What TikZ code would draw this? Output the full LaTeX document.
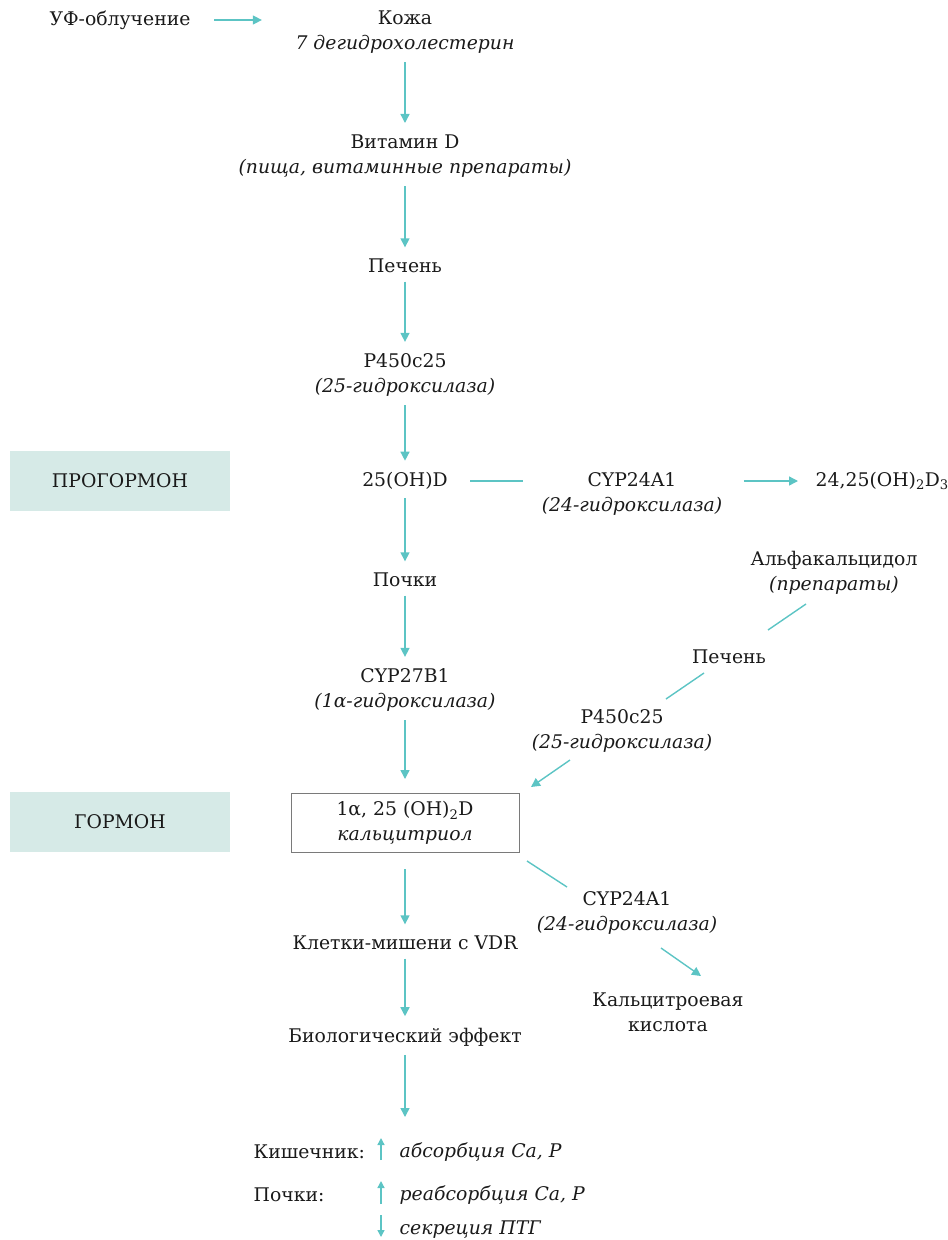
\documentclass[tikz,border=0pt]{standalone}
\usepackage{fontspec}
\setmainfont{DejaVu Serif}
\usepackage{tikz}
\usetikzlibrary{arrows.meta}
\usetikzlibrary{calc}
\definecolor{ink}{HTML}{1A1A1A}
\definecolor{teal}{HTML}{5CC4C4}
\definecolor{mint}{HTML}{D6EAE7}
\definecolor{frame}{HTML}{7A7A7A}
\tikzset{every picture/.style={line width=1.4pt},
lbl/.style={inner sep=0pt, align=center},
stage/.style={fill=mint, minimum width=220pt, minimum height=60pt, inner sep=0pt},
keybox/.style={draw=frame, line width=1pt, minimum width=228pt, minimum height=59pt, align=center, inner sep=0pt},
flow/.style={draw=teal, -{Triangle[length=9pt,width=9pt]}, shorten <=8pt, shorten >=11pt},
link/.style={draw=teal},
tick/.style={draw=teal, -{Triangle[length=7pt,width=7pt]}}}

\begin{document}
\begin{tikzpicture}[x=1pt, y=-1pt, every node/.style={font=\fontsize{18.8}{25}\selectfont, text=ink}]
\useasboundingbox (0,0) rectangle (948,1240);
% stages
\node (pro) at (120,481) [stage] {ПРОГОРМОН};
\node (hor) at (120,822) [stage] {ГОРМОН};
% main chain
\node (uv) at (120,20) [lbl] {УФ-облучение};
\node (skin) at (405,32) [lbl] {Кожа\\\textit{7 дегидрохолестерин}};
\node (vitd) at (405,156) [lbl] {Витамин D\\\textit{(пища, витаминные препараты)}};
\node (liver) at (405,266) [lbl] {Печень};
\node (p450) at (405,375) [lbl] {P450c25\\\textit{(25-гидроксилаза)}};
\node (ohd) at (405,481) [lbl] {25(OH)D};
\node (kidney) at (405,580) [lbl] {Почки};
\node (cyp27) at (405,690) [lbl] {CYP27B1\\\textit{(1α-гидроксилаза)}};
\node (calc) at (405,823) [keybox] {1α, 25 (OH)\textsubscript{2}D\\\textit{кальцитриол}};
\node (target) at (405,943) [lbl] {Клетки-мишени с VDR};
\node (effect) at (405,1037) [lbl] {Биологический эффект};
\coordinate (out) at (405,1117);
% side branches
\node (cypa) at (632,494) [lbl] {CYP24A1\\\textit{(24-гидроксилаза)}};
\node (dhd) at (815,481) [lbl, anchor=west] {24,25(OH)\textsubscript{2}D\textsubscript{3}};
\node (alfa) at (834,573) [lbl] {Альфакальцидол\\\textit{(препараты)}};
\node (liverb) at (729,657) [lbl] {Печень};
\node (p450b) at (622,731) [lbl] {P450c25\\\textit{(25-гидроксилаза)}};
\node (cypb) at (627,913) [lbl] {CYP24A1\\\textit{(24-гидроксилаза)}};
\node (acid) at (668,1012) [lbl] {Кальцитроевая\\кислота};
% effects
\node (gut) at (253,1152) [lbl, anchor=west] {Кишечник:};
\node (ren) at (253,1195) [lbl, anchor=west] {Почки:};
\node (abs) at (399,1152) [lbl, anchor=west] {\textit{абсорбция Ca, P}};
\node (reabs) at (399,1195) [lbl, anchor=west] {\textit{реабсорбция Ca, P}};
\node (pth) at (399,1230) [lbl, anchor=west] {\textit{секреция ПТГ}};

\draw[flow, shorten <=23pt, shorten >=33pt] (uv.east) -- (uv.east -| skin.west);
\foreach \a/\b in {skin/vitd, vitd/liver, liver/p450, p450/ohd, ohd/kidney, kidney/cyp27, target/effect} {
\draw[flow] (\a) -- (\b);
}
\draw[flow, shorten >=14pt] (cyp27) -- (calc);
\draw[flow, shorten <=16pt] (calc) -- (target);
\draw[flow, shorten >=0pt] (effect) -- (out);
\draw[link, shorten <=22pt, shorten >=18pt] (ohd.east) -- (ohd.east -| cypa.west);
\draw[flow, shorten <=21pt, shorten >=17pt] (dhd.west -| cypa.east) -- (dhd.west);
\draw[link] ($(alfa)+(-28,31)$) -- ($(liverb)+(39,-27)$);
\draw[link] ($(liverb)+(-25,16)$) -- ($(p450b)+(44,-32)$);
\draw[flow, shorten <=0pt, shorten >=0pt] ($(p450b)+(-52,29)$) -- ($(calc)+(126,-36)$);
\draw[link] ($(calc)+(122,38)$) -- ($(cypb)+(-60,-26)$);
\draw[flow, shorten <=0pt, shorten >=0pt] ($(cypb)+(34,35)$) -- ($(acid)+(33,-36)$);
\draw[tick] ($(abs.west)+(-18,8)$) -- ($(abs.west)+(-18,-14)$);
\draw[tick] ($(reabs.west)+(-18,9)$) -- ($(reabs.west)+(-18,-14)$);
\draw[tick] ($(pth.west)+(-18,-15)$) -- ($(pth.west)+(-18,7)$);
\end{tikzpicture}
\end{document}
